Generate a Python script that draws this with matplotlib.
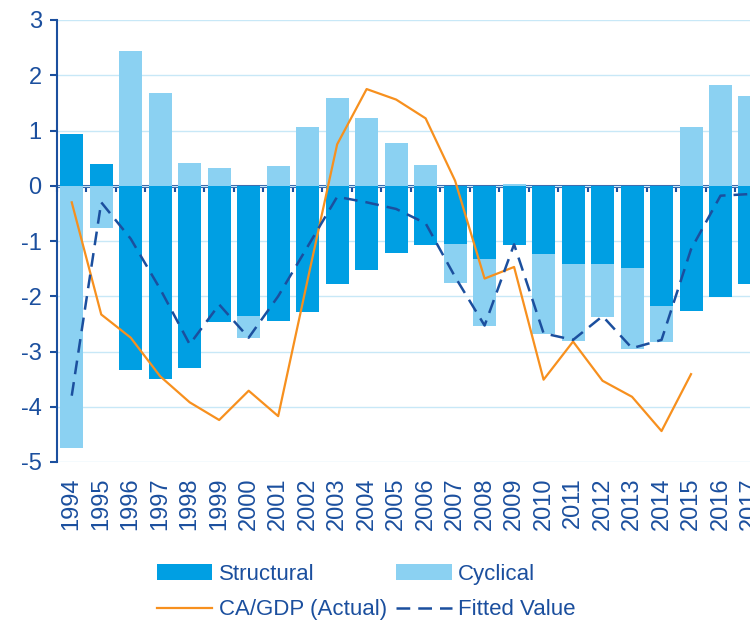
import numpy as np
import matplotlib
matplotlib.use("Agg")
import matplotlib.pyplot as plt

plt.rcParams['font.family'] = ['Liberation Sans', 'DejaVu Sans']
plt.rcParams['axes.unicode_minus'] = False

# data
years = [str(y) for y in range(1994, 2018)]
structural = [0.94, 0.40, -3.33, -3.50, -3.29, -2.47, -2.36, -2.45, -2.28, -1.78, -1.53, -1.22,
              -1.08, -1.06, -1.33, -1.08, -1.24, -1.41, -1.41, -1.48, -2.18, -2.26, -2.02, -1.78]
cyclical = [-4.75, -0.76, 2.44, 1.68, 0.41, 0.33, -0.40, 0.36, 1.07, 1.59, 1.23, 0.77,
            0.38, -0.70, -1.20, 0.03, -1.45, -1.40, -0.97, -1.47, -0.65, 1.07, 1.83, 1.62]
ca_gdp = [-0.30, -2.33, -2.75, -3.45, -3.92, -4.24, -3.71, -4.17, -1.70, 0.75, 1.75,
          1.56, 1.22, 0.09, -1.68, -1.47, -3.51, -2.82, -3.53, -3.82, -4.44, -3.41]
fitted = [-3.80, -0.30, -0.96, -1.87, -2.87, -2.15, -2.75, -2.00, -1.10, -0.20, -0.30, -0.42,
          -0.68, -1.65, -2.53, -1.06, -2.67, -2.79, -2.36, -2.94, -2.79, -1.15, -0.18, -0.15]

c_struct = '#009FE3'
c_cyc = '#8BD1F2'
c_orange = '#F7901E'
c_dark = '#1B4F9E'
c_grid = '#C8E8F7'

fig = plt.figure(figsize=(7.5, 6.2), dpi=100)
ax = fig.add_axes([57/750, 1-462/620, 1-57/750, (462-20)/620])

x = np.arange(len(years))
s = np.array(structural)
c = np.array(cyclical)
c_bottom = np.where(np.sign(c) == np.sign(s), s, 0)   # stack only when same sign

b1 = ax.bar(x, s, width=0.78, color=c_struct, zorder=2)
b2 = ax.bar(x, c, bottom=c_bottom, width=0.78, color=c_cyc, zorder=2)
l1, = ax.plot(x[:len(ca_gdp)], ca_gdp, color=c_orange, lw=1.6, zorder=3)
l2, = ax.plot(x, fitted, color=c_dark, lw=1.8, dashes=(5.5, 3.2), zorder=3)

ax.set_ylim(-5, 3)
ax.set_xlim(-0.5, 23.0)
ax.set_yticks(range(-5, 4))
ax.yaxis.grid(True, color=c_grid, lw=1.0)
ax.set_axisbelow(True)

for sp in ['top', 'right', 'bottom']:
    ax.spines[sp].set_visible(False)
ax.spines['left'].set_color(c_dark)
ax.spines['left'].set_linewidth(1.5)

ax.set_xticks(x)
ax.set_xticklabels(years, rotation=90, fontsize=17, color=c_dark)
ax.tick_params(axis='x', length=0, pad=11)
ax.tick_params(axis='y', colors=c_dark, labelsize=17, length=5, width=1.5, pad=6)

# zero line with small ticks between categories
sec = ax.secondary_xaxis(5/8)
sec.set_alignment('bottom')
sec.spines['bottom'].set_color(c_dark)
sec.spines['bottom'].set_linewidth(2.2)
sec.set_xticks(np.arange(-0.5, 23.5, 1))
sec.tick_params(axis='x', length=4, width=1.5, color=c_dark, labelbottom=False, direction='out')

# ncol=2 fills column by column
leg = fig.legend([b1, l1, b2, l2],
                 ['Structural', 'CA/GDP (Actual)', 'Cyclical', 'Fitted Value'], ncol=2,
                 loc='upper left', bbox_to_anchor=(148/750, 1-555/620), frameon=False,
                 fontsize=16, handlelength=2.5, handletextpad=0.3, columnspacing=0.4,
                 labelspacing=0.65, borderaxespad=0)
for t in leg.get_texts():
    t.set_color(c_dark)

fig.savefig('out.png', dpi=100)
